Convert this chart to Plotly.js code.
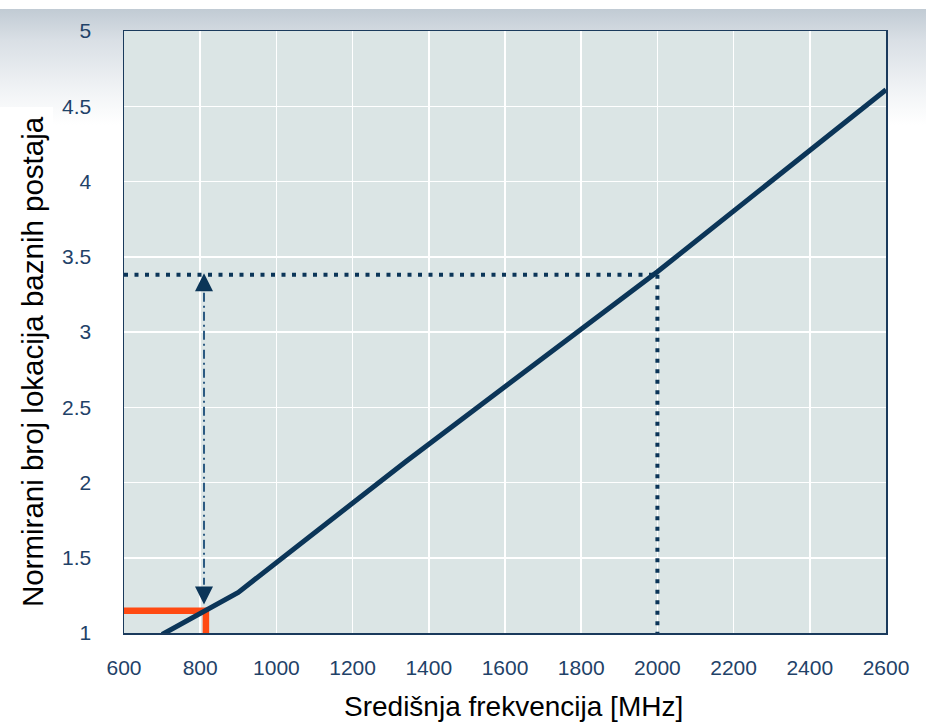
<!DOCTYPE html>
<html>
<head>
<meta charset="utf-8">
<script src="https://cdn.plot.ly/plotly-3.0.1.min.js"></script>
<style>
  html, body { margin: 0; padding: 0; }
  body {
    width: 926px; height: 724px; overflow: hidden;
    background: linear-gradient(to bottom, #ffffff 0px, #ffffff 9px, #c1cbd4 9px, #d9dfe5 40px, #f3f5f7 95px, #ffffff 125px);
    position: relative;
  }
  #leftbox { position: absolute; left: 0; top: 107px; width: 53px; height: 617px; background: #ffffff; }
  #chart { position: absolute; left: 0; top: 0; width: 926px; height: 724px; }
</style>
</head>
<body>
<div id="leftbox"></div>
<div id="chart"></div>
<script>
// Data
const freqMHz = [700, 900, 1340, 2000, 2600];
const normSites = [0.99, 1.27, 2.14, 3.40, 4.61];

const refFreq = 2000;          // dotted guide frequency
const refValue = 3.38;         // dotted guide level
const axisStartFreq = 600;
const axisBaseValue = 1;

const arrowFreq = 810;         // double-headed arrow position
const arrowTop = 3.39;
const arrowBottom = 1.19;

const markFreq = 815;          // orange marker corner
const markValue = 1.148;

const xTickVals = [600, 800, 1000, 1200, 1400, 1600, 1800, 2000, 2200, 2400, 2600];
const yTickVals = [1, 1.5, 2, 2.5, 3, 3.5, 4, 4.5, 5];
const yTickText = ['1', '1.5', '2', '2.5', '3', '3.5', '4', '4.5', '5'];

const navy = '#0b3558';
const tickColor = '#1f4268';
const font = 'Liberation Sans, Arial, Helvetica, sans-serif';

const arrowGap = 0.13;

const traces = [
  { // horizontal dotted guide
    x: [axisStartFreq, refFreq], y: [refValue, refValue],
    mode: 'lines', line: { color: navy, width: 4, dash: '4px,6.5px' }, hoverinfo: 'skip'
  },
  { // vertical dotted guide
    x: [refFreq, refFreq], y: [refValue, axisBaseValue],
    mode: 'lines', line: { color: navy, width: 4, dash: '4px,6.5px' }, hoverinfo: 'skip'
  },
  { // dash-dot arrow shaft
    x: [arrowFreq, arrowFreq], y: [arrowTop - arrowGap, arrowBottom + arrowGap],
    mode: 'lines', line: { color: '#2c5a82', width: 2, dash: '9px,4px,2px,4px' }, hoverinfo: 'skip'
  },
  { // arrow heads
    x: [arrowFreq], y: [arrowTop],
    mode: 'markers', marker: { symbol: 'arrow-up', size: 18, color: navy, line: { width: 0 } }, hoverinfo: 'skip'
  },
  {
    x: [arrowFreq], y: [arrowBottom],
    mode: 'markers', marker: { symbol: 'arrow-down', size: 18, color: navy, line: { width: 0 } }, hoverinfo: 'skip'
  },
  { // orange marker
    x: [axisStartFreq, markFreq, markFreq], y: [markValue, markValue, axisBaseValue - 0.02],
    mode: 'lines', line: { color: '#ff4a12', width: 6.5 }, hoverinfo: 'skip'
  },
  { // main curve
    x: freqMHz, y: normSites,
    mode: 'lines', line: { color: navy, width: 5 }, name: 'Normirani broj'
  }
];

const layout = {
  width: 926, height: 724,
  margin: { l: 123.5, r: 40.3, t: 31, b: 91 },
  paper_bgcolor: 'rgba(0,0,0,0)',
  plot_bgcolor: 'rgb(219,229,229)',
  showlegend: false,
  font: { family: font, color: tickColor, size: 21 },
  xaxis: {
    range: [600, 2600], tickvals: xTickVals,
    showgrid: true, gridcolor: '#ffffff', gridwidth: 1.5,
    showline: true, linecolor: '#1a3a5c', linewidth: 1.5, mirror: true,
    ticks: '', ticklabelstandoff: 15, zeroline: false,
    tickfont: { family: font, size: 21, color: tickColor }
  },
  yaxis: {
    range: [1, 5], tickvals: yTickVals, ticktext: yTickText,
    showgrid: true, gridcolor: '#ffffff', gridwidth: 1.5,
    showline: true, linecolor: '#1a3a5c', linewidth: 1.5, mirror: true,
    ticks: '', ticklabelstandoff: 27, zeroline: false,
    tickfont: { family: font, size: 21, color: tickColor }
  },
  annotations: [
    {
      text: 'Normirani broj lokacija baznih postaja',
      xref: 'paper', yref: 'paper', x: 0, y: 0.45,
      xanchor: 'center', yanchor: 'middle', xshift: -92,
      textangle: -90, showarrow: false,
      font: { family: font, size: 29.5, color: '#000000' }
    },
    {
      text: 'Središnja frekvencija [MHz]',
      xref: 'paper', yref: 'paper', x: 0.511, y: 0,
      xanchor: 'center', yanchor: 'middle', yshift: -73,
      showarrow: false,
      font: { family: font, size: 28, color: '#000000' }
    }
  ]
};

Plotly.newPlot('chart', traces, layout, { displayModeBar: false, staticPlot: true });
</script>
</body>
</html>
